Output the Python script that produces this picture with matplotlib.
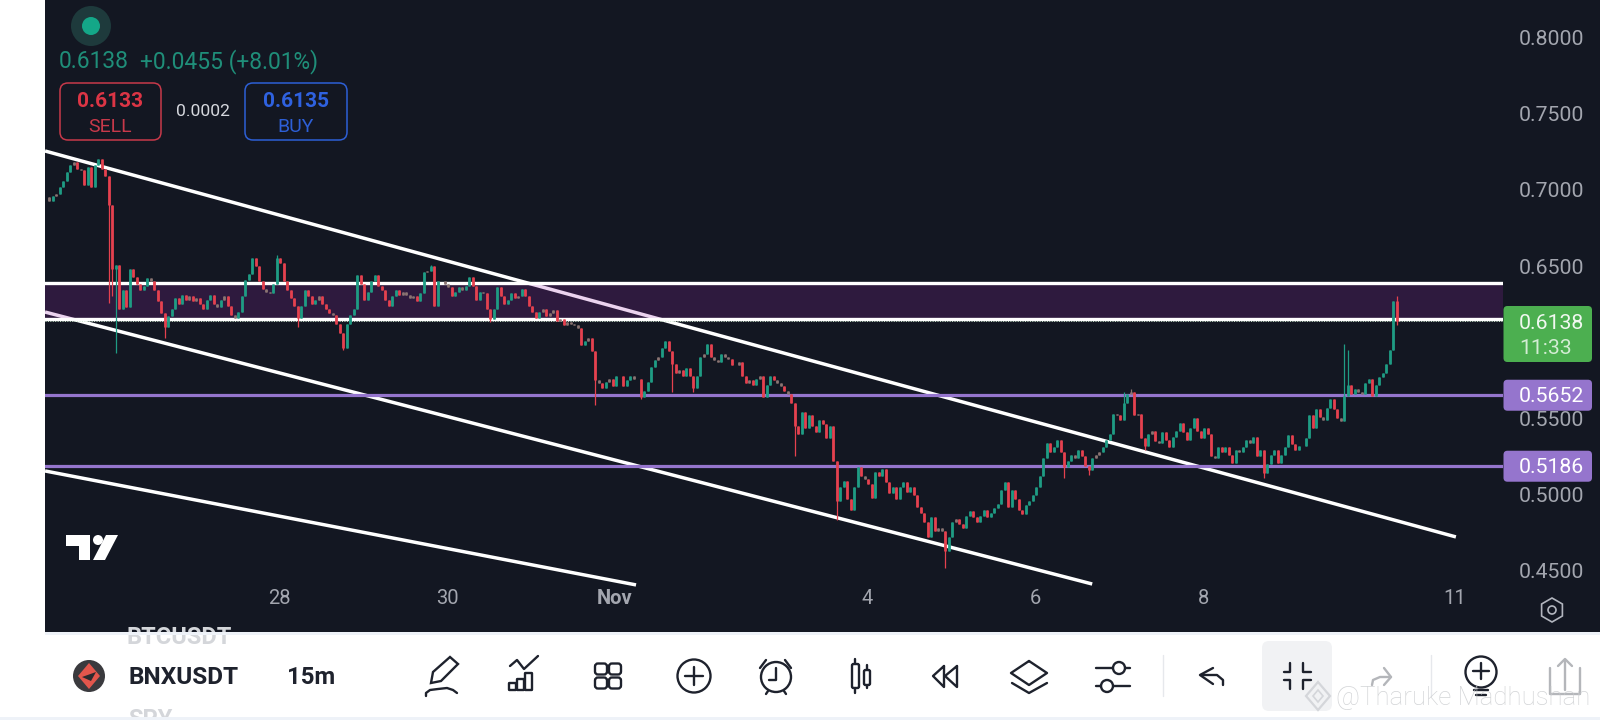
import numpy as np
import pandas as pd
import matplotlib
matplotlib.use("Agg")
import matplotlib.pyplot as plt
from matplotlib.lines import Line2D
from matplotlib.patches import FancyBboxPatch, Rectangle, Circle, Polygon, Ellipse
from matplotlib.transforms import Affine2D

plt.rcParams['font.family'] = ['Roboto', 'DejaVu Sans']

# ---------- data (prices in thousandths of USDT, one bar per hour) ----------
start_time = "2024-10-25 05:25"
closes_oct25_a = [695,693,696,697,702,706,712,716,718,714,713,703,715,702,716,720,714,709,690]
closes_oct26 = [648,651,622,634,623,648,643,638,634,637,642,640,634,627,619,610,617,622,629,625,
                631,628,630,627,629,625,622,628,631,625,623,628,630,624,618,616,620,630,641,645,
                655,650,640,635,633,632,638,655,652,640,634,629,624,616]
closes_oct28 = [624,634,630,625,628,630,625,622,619,618,612,606,596,612,618,622,644,638,628,633,
                640,644,637,634,628,624,630,634,631,633,631,629,630,627,632,646,647,650,624,640]
closes_oct30 = [640,638,636,630,633,636,634,637,643,637,628,633,632,622,615,622,636,630,625,628,
                632,629,630,635,630,624,620,616,620,622,617,619,621,614,615,611,613,612,611,609,
                598,601,603,594]
closes_nov1 = [575,573,570,574,576,571,578,578,571,575,578,576,576,564,568,574,584,588,590,596,
               601,594,586,580,582,578,583,578,570,578,590,592,599,590,588,587,592,590,589,585,
               585,587,578,573,575,572,576,578,564,572,578,575,573,571,568,566,560]
closes_nov3 = [545,540,554,544,552,545,541,549,546,537,545,522,496,505,509,497,490,505,518,512,
               510,507,498,515,512,517,508,501,505,497,505,508,502,505,500,492,488,482,472,485,
               476,478,476]
closes_nov5 = [463,472,482,484,481,478,486,489,485,482,486,490,485,488,491,494,503,508,492,503,
               497,490,487,493,496,500,505,512,524,534,528,531,536,528,518,522,526,524,529,525,
               519,516,524,526,528,531,536,540]
closes_nov7 = [553,552,549,560,566,567,552,553,537,532,540,542,535,534,541,536,531,538,542,547,
               541,536,544,550,542,537,544,540,525,524,531,528,531,526,521,529,528,531,536,534,
               538,525,529,514,520,526,529,521,526,531,539,533,529,532,532,537,552,544,556,551,
               549,557,563,556,550,548,565,572,566,569,567,566,573,576,565,572,577,580,586,595,
               627,613.8]
low_wicks = {18:626, 19:630, 20:593, 34:603, 72:610, 85:595, 127:613, 157:559, 170:563, 179:567,
             185:567, 214:525, 226:483, 257:452, 291:511, 298:513, 314:529, 348:511, 386:611}
high_wicks = {66:657, 110:651, 308:567, 310:569, 371:599, 372:595, 386:630}

zone_top, zone_bottom = 0.6390, 0.6150
level_a, level_b = 0.5652, 0.5186
last_price = 0.6138
channel_upper = (("2024-10-25 05:09", "2024-11-11 00:15"), (0.7255, 0.4722))
channel_middle = (("2024-10-25 05:09", "2024-11-06 16:20"), (0.6198, 0.4413))
channel_lower = (("2024-10-25 05:09", "2024-11-01 06:00"), (0.5155, 0.4407))
price_ticks = [0.80, 0.75, 0.70, 0.65, 0.55, 0.50, 0.45]
date_ticks = ["2024-10-28", "2024-10-30", "2024-11-01", "2024-11-04", "2024-11-06", "2024-11-08", "2024-11-11"]
date_labels = ["28", "30", "Nov", "4", "6", "8", "11"]

closes = np.array(closes_oct25_a + closes_oct26 + closes_oct28 + closes_oct30 + closes_nov1 +
                  closes_nov3 + closes_nov5 + closes_nov7, dtype=float) / 1000
times = pd.date_range(start_time, periods=len(closes), freq="h")
opens = np.r_[closes[0], closes[:-1]]
highs = np.maximum(opens, closes)
lows = np.minimum(opens, closes)
for k, v in low_wicks.items():
    lows[k] = min(lows[k], v / 1000)
for k, v in high_wicks.items():
    highs[k] = max(highs[k], v / 1000)

# ---------- figure ----------
BG = "#131722"
fig = plt.figure(figsize=(16, 7.2), dpi=100, facecolor="white")
P = Affine2D().scale(1 / 1600, -1 / 720).translate(0, 1) + fig.transFigure

ax = fig.add_axes([45 / 1600, 1 - 632 / 720, (1503 - 45) / 1600, 632 / 720], facecolor=BG)
YMAX, YMIN = 0.8246, 0.4098
ax.set_ylim(YMIN, YMAX)
t0 = pd.Timestamp("2024-10-28")
ax.set_xlim(t0 + pd.Timedelta(days=-2.786), t0 + pd.Timedelta(days=14.571))
for s in ax.spines.values():
    s.set_visible(False)

def price_px(p):
    return 632 * (YMAX - p) / (YMAX - YMIN)

def fig_rect(x0, y0, x1, y1, color, z=-5):
    fig.add_artist(Rectangle((x0, y0), x1 - x0, y1 - y0, transform=P, fc=color, ec="none", zorder=z))

fig_rect(1503, 0, 1600, 632, BG)
fig_rect(45, 632, 1600, 635, "#eef2f8")
fig_rect(0, 717, 1600, 720, "#eef2f8")

# trend lines, zone, levels
for (ts, ps) in (channel_upper, channel_middle, channel_lower):
    ax.plot(pd.to_datetime(list(ts)), ps, color="white", lw=2.5, solid_capstyle="butt", zorder=2)
ax.axhspan(zone_bottom, zone_top, color="#9c27b0", alpha=0.2, lw=0, zorder=2.5)
ax.axhline(zone_top, color="white", lw=2.4, zorder=3)
ax.axhline(zone_bottom, color="white", lw=2.4, zorder=3)
ax.axhline(last_price, color="#cfe8d0", lw=0.7, ls=(0, (1, 1.5)), zorder=3)
ax.axhline(level_a, color="#9575cd", lw=2.3, zorder=3)
ax.axhline(level_b, color="#9575cd", lw=2.3, zorder=3)

# candles
UP, DOWN, FLAT = "#1f9c84", "#e5414f", "#8a7472"
colors = [FLAT if abs(c - o) < 0.0026 else (UP if c >= o else DOWN) for o, c in zip(opens, closes)]
ax.vlines(times, lows, highs, colors=colors, lw=0.9, zorder=4)
ax.vlines(times, np.minimum(opens, closes), np.maximum(opens, closes), colors=colors, lw=2.0, zorder=4)

# axes ticks
ax.set_xticks(pd.to_datetime(date_ticks))
ax.set_xticklabels(date_labels)
ax.tick_params(axis="x", length=0, pad=-31, labelsize=14.5, labelcolor="#a3a6af")
ax.get_xticklabels()[2].set_fontweight("bold")
ax.yaxis.tick_right()
ax.set_yticks(price_ticks)
ax.set_yticklabels([f"{p:.4f}" for p in price_ticks])
ax.tick_params(axis="y", length=0, pad=11.5, labelsize=15.3, labelcolor="#a3a6af")

# price tags
def tag(price, y0, y1, fc, lines):
    fig.add_artist(FancyBboxPatch((1503.5, y0), 88.5, y1 - y0, boxstyle="round,pad=0,rounding_size=4",
                                  transform=P, fc=fc, ec="none", lw=0, zorder=5))
    for txt, yy, col in lines:
        fig.text(1519, yy, txt, transform=P, color=col, fontsize=15.3, va="center", ha="left", zorder=6)

tag(last_price, 306, 362, "#4caf50", [(f"{last_price:.4f}", 323.5, "#f0f8f0"), ("11:33", 348.5, "#d2ecd3")])
tag(level_a, price_px(level_a) - 15.5, price_px(level_a) + 15.5, "#9575cd", [(f"{level_a:.4f}", price_px(level_a) + 1, "white")])
tag(level_b, price_px(level_b) - 15.5, price_px(level_b) + 15.5, "#9575cd", [(f"{level_b:.4f}", price_px(level_b) + 1, "white")])

# header overlay
fig.add_artist(Circle((91, 26), 20, transform=P, fc="#1e3a3c", ec="none", zorder=5))
fig.add_artist(Circle((91, 26), 9, transform=P, fc="#14a788", ec="none", zorder=6))
HDR = "#1f8e79"
fig.text(59, 62, "0.6138", transform=P, color=HDR, fontsize=16.4, va="center", zorder=6)
fig.text(140, 62, "+0.0455 (+8.01%)", transform=P, color=HDR, fontsize=16.4, va="center", zorder=6)

def trade_box(x0, x1, col, txtcol, price, word):
    fig.add_artist(FancyBboxPatch((x0 + 8, 83 + 8), x1 - x0 - 16, 57 - 16, boxstyle="round,pad=8,rounding_size=8",
                                  transform=P, fc="none", ec=col, lw=1.1, zorder=6))
    cx = (x0 + x1) / 2
    fig.text(cx, 101.5, price, transform=P, color=txtcol, fontsize=15, fontweight="bold", ha="center", va="center", zorder=6)
    fig.text(cx, 127, word, transform=P, color=col, fontsize=14, ha="center", va="center", zorder=6)

trade_box(60, 161, "#c8394a", "#dc3545", "0.6133", "SELL")
trade_box(245, 347, "#2d5fd6", "#2f62e0", "0.6135", "BUY")
fig.text(203, 111, "0.0002", transform=P, color="#d6d8de", fontsize=12.6, ha="center", va="center", zorder=6)

# TradingView mark
W = "white"
for pts in ([(66, 535), (90, 535), (90, 560), (79, 560), (79, 546), (66, 546)],
            [(106, 535), (118, 535), (105, 560), (93, 560)]):
    fig.add_artist(Polygon(pts, transform=P, fc=W, ec="none", zorder=6))
fig.add_artist(Circle((98, 540), 5, transform=P, fc=W, ec="none", zorder=6))

# settings hexagon
hx = [(1552 + 12 * np.sin(a), 610 + 12 * np.cos(a)) for a in np.arange(0, 6) * np.pi / 3]
fig.add_artist(Polygon(hx, transform=P, fc="none", ec="#b2b5be", lw=1.2, zorder=6))
fig.add_artist(Circle((1552, 610), 4, transform=P, fc="none", ec="#b2b5be", lw=1.2, zorder=6))

# toolbar
INK = "#1e222d"
def ln(xs, ys, c=INK, lw=1.7, z=6):
    fig.add_artist(Line2D(xs, ys, transform=P, color=c, lw=lw, zorder=z, solid_capstyle="round", solid_joinstyle="round"))
def rect(x, y, w, h, c=INK, lw=1.7, r=1.5, fc="none", z=6):
    fig.add_artist(FancyBboxPatch((x, y), w, h, boxstyle=f"round,pad=0,rounding_size={r}", transform=P,
                                  fc=fc, ec=c, lw=lw, zorder=z))
def circ(x, y, r, c=INK, lw=1.7, fc="none", z=6):
    fig.add_artist(Circle((x, y), r, transform=P, fc=fc, ec=c, lw=lw, zorder=z))

fig.text(127, 637, "BTCUSDT", transform=P, color="#d4d6da", fontsize=17, fontweight="bold", va="center", zorder=1)
fig_rect(100, 632, 260, 635, "#eef2f8", z=2)
fig.text(128, 677, "BNXUSDT", transform=P, color=INK, fontsize=17.6, fontweight="bold", va="center", zorder=6)
fig.text(287, 677, "15m", transform=P, color=INK, fontsize=17.3, fontweight="bold", va="center", zorder=6)
fig.text(128, 719, "SPY", transform=P, color="#d4d6da", fontsize=17, fontweight="bold", va="center", zorder=1)
fig_rect(100, 717, 260, 720, "#eef2f8", z=2)
fig.add_artist(Ellipse((89, 676), 32, 32, transform=P, fc="#3a3a3e", ec="none", zorder=6))
fig.add_artist(Polygon([(89, 663), (100, 676), (89, 689), (78, 676)], transform=P, fc="#e2564c", ec="none", zorder=7))
fig.add_artist(Polygon([(82, 677), (96, 672), (91, 681)], transform=P, fc="#2a2a2e", ec="none", zorder=8))

# pencil
fig.add_artist(Polygon([(431, 683), (433, 672), (450, 657), (458, 664), (441, 681)], transform=P, fc="none", ec=INK, lw=1.7, zorder=6))
ln([426, 426, 430, 438, 447, 453, 457], [696, 693, 690, 689, 688, 690, 693])
# indicators
ln([510, 517, 524, 538], [666, 660, 669, 656])
for x, h in ((512, 7), (520, 11), (528, 17)):
    rect(x - 3, 690 - h, 7, h, r=0.5)
# grid
for x, y in ((601, 669), (615, 669), (601, 683), (615, 683)):
    rect(x - 6, y - 5.5, 12, 11, r=3)
# plus
circ(694, 676, 16.5)
ln([685, 703], [676, 676]); ln([694, 694], [667, 685])
# alarm
circ(776, 677, 15)
ln([776, 776, 769], [668, 680, 680])
ln([760, 766], [668, 660]); ln([791, 785], [668, 660]); ln([768, 766], [691, 694]); ln([784, 786], [691, 694])
# candles
rect(852, 664, 7, 24); ln([855, 855], [659, 664]); ln([855, 855], [688, 693])
rect(864, 670, 6, 15); ln([867, 867], [665, 670]); ln([867, 867], [685, 688])
# rewind
ln([944, 933, 944, 944], [666, 676, 687, 666])
ln([957, 945, 957, 957], [666, 676, 687, 666], lw=1.7)
# layers
ln([1029, 1047, 1029, 1011, 1029], [661, 673, 685, 673, 661])
ln([1012, 1029, 1047], [683, 693, 683])
# sliders
ln([1096, 1113], [668, 668]); ln([1125, 1130], [668, 668]); circ(1119, 668, 6)
ln([1096, 1101], [686, 686]); ln([1113, 1130], [686, 686]); circ(1107, 686, 6)
# separators
ln([1163, 1163], [655, 696], c="#e6e8ec", lw=1); ln([1431, 1431], [655, 696], c="#e6e8ec", lw=1)
# undo
ln([1213, 1200, 1213], [668, 675, 684]); ln([1201, 1217, 1223, 1223], [675, 675, 680, 685])
# collapse
rect(1262, 641, 70, 70, c="#f1f2f4", lw=0, r=7, fc="#f1f2f4", z=5)
ln([1290, 1290, 1284], [663, 672, 672]); ln([1303, 1303, 1311], [663, 672, 672])
ln([1284, 1290, 1290], [680, 680, 689]); ln([1311, 1303, 1303], [680, 680, 689])
# redo
GR = "#b4b6ba"
ln([1384, 1391, 1384], [668, 677, 685], c=GR); ln([1391, 1380, 1373, 1372], [677, 677, 680, 685], c=GR)
# bulb plus
circ(1481, 672, 15.5)
ln([1473, 1489], [671, 671]); ln([1481, 1481], [663, 679])
ln([1474, 1488], [690, 690]); ln([1476, 1486], [695, 695])
# share
ln([1550, 1550, 1580, 1580], [668, 694, 694, 668], c=GR)
ln([1565, 1565], [660, 690], c=GR); ln([1558, 1565, 1572], [666, 659, 666], c=GR)

# watermark
fig.add_artist(Polygon([(1318, 682), (1330, 696), (1318, 710), (1306, 696)], transform=P, fc="none", ec="#d4d6da", lw=1.6, zorder=9))
fig.add_artist(Polygon([(1318, 690), (1323, 696), (1318, 702), (1313, 696)], transform=P, fc="none", ec="#d4d6da", lw=1.2, zorder=9))
fig.text(1336, 698, "@Tharuke Madhushan", transform=P, color="#c8cacd", fontsize=18.6, fontweight="light",
         alpha=0.8, va="center", zorder=9)

assert len(closes) == 387, len(closes)
fig.savefig("out.png", dpi=100, facecolor="white")
